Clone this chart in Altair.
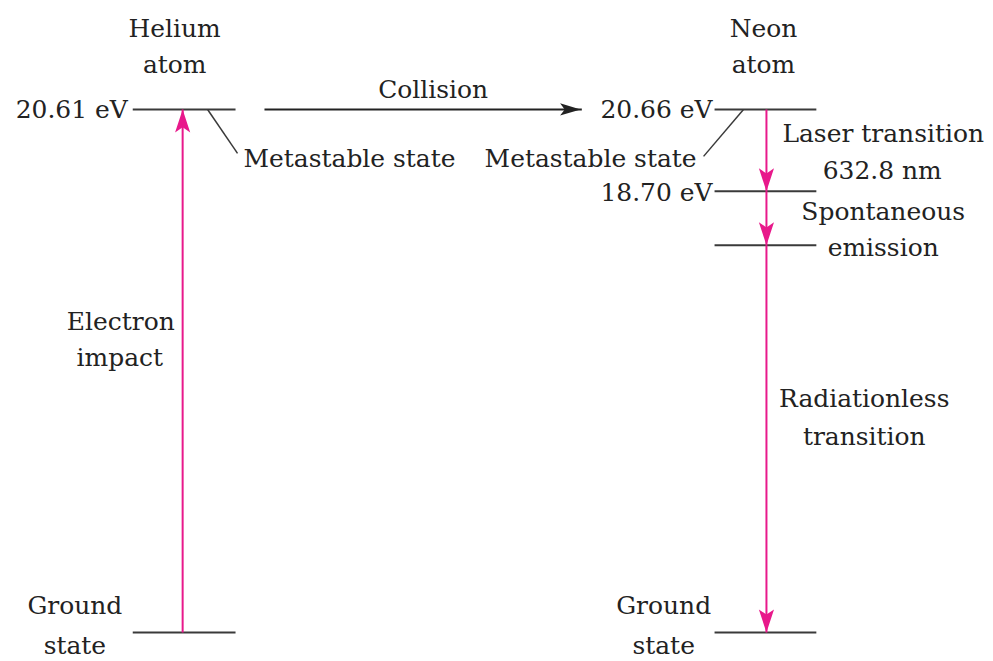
import altair as alt
import pandas as pd

# ---- energy-level diagram content (reference pixel frame) ----
# horizontal level lines: x start, x end, y
level_x1 = [133, 133, 716, 716, 716, 716]
level_x2 = [236, 236, 818, 818, 818, 818]
level_y = [109, 633, 109, 191, 245, 633]

# leader lines (metastable state pointers)
leader_x1 = [208, 745]
leader_y1 = [109, 109]
leader_x2 = [238, 705]
leader_y2 = [153, 156]

# magenta transitions: x, from y, to y (tip)
trans_x = [183, 768, 768, 768]
trans_from = [633, 109, 191, 245]
trans_to = [109, 191, 245, 633]

# collision arrow
coll_x1, coll_x2, coll_y = 265, 583, 109

# text labels: text, x, baseline y, alignment
labels = ["Helium", "atom", "Neon", "atom",
          "20.61 eV", "20.66 eV", "18.70 eV",
          "Collision", "Metastable state", "Metastable state",
          "Laser transition", "632.8 nm", "Spontaneous", "emission",
          "Electron", "impact", "Radiationless", "transition",
          "Ground", "state", "Ground", "state"]
label_x = [175, 175, 765, 765,
           128, 714, 714,
           434, 244, 698,
           885, 884, 885, 885,
           121, 120, 866, 866,
           75, 75, 665, 665]
label_y = [36, 72, 36, 72,
           118, 118, 201,
           98, 167, 167,
           142, 179, 220, 256,
           330, 366, 407, 445,
           615, 655, 615, 655]
label_align = ["center", "center", "center", "center",
               "right", "right", "right",
               "center", "left", "right",
               "center", "center", "center", "center",
               "center", "center", "center", "center",
               "center", "center", "center", "center"]

LINE = "#3a3a3a"
MAG = "#E8198B"
TXT = "#222222"
FONT = "DejaVu Serif"
FS = 25
HEAD = 23  # arrowhead length in px

xs = alt.Scale(domain=[8, 985], nice=False, zero=False)
ys = alt.Scale(domain=[8, 653], nice=False, zero=False, reverse=True)
X = lambda f: alt.X(f, type="quantitative", scale=xs, axis=None)
Y = lambda f: alt.Y(f, type="quantitative", scale=ys, axis=None)

levels = pd.DataFrame({"x": level_x1, "x2": level_x2, "y": level_y})
leaders = pd.DataFrame({"x": leader_x1, "y": leader_y1, "x2": leader_x2, "y2": leader_y2})
trans = pd.DataFrame({"x": trans_x, "y": trans_from, "y2": trans_to})
trans["dir"] = ["up" if t < f else "down" for f, t in zip(trans_from, trans_to)]
trans["hy"] = [t + HEAD / 2 if d == "up" else t - HEAD / 2 for t, d in zip(trans_to, trans["dir"])]
coll = pd.DataFrame({"x": [coll_x1], "x2": [coll_x2], "y": [coll_y], "hx": [coll_x2 - HEAD / 2]})
txt = pd.DataFrame({"t": labels, "x": label_x, "y": label_y, "a": label_align})

level_layer = alt.Chart(levels).mark_rule(color=LINE, strokeWidth=2).encode(
    x=X("x"), x2="x2", y=Y("y"))
leader_layer = alt.Chart(leaders).mark_rule(color=LINE, strokeWidth=1.5).encode(
    x=X("x"), y=Y("y"), x2="x2", y2="y2")
trans_layer = alt.Chart(trans).mark_rule(color=MAG, strokeWidth=2).encode(
    x=X("x"), y=Y("y"), y2="y2")
UP = "M0,-1 L0.66,1 L0,0.55 L-0.66,1 Z"
DOWN = "M0,1 L0.66,-1 L0,-0.55 L-0.66,-1 Z"
RIGHT = "M1,0 L-1,-0.6 L-0.55,0 L-1,0.6 Z"
head_up = alt.Chart(trans[trans["dir"] == "up"]).mark_point(
    shape=UP, filled=True, color=MAG, size=HEAD * HEAD, opacity=1, strokeWidth=0).encode(
    x=X("x"), y=Y("hy"))
head_down = alt.Chart(trans[trans["dir"] == "down"]).mark_point(
    shape=DOWN, filled=True, color=MAG, size=HEAD * HEAD, opacity=1, strokeWidth=0).encode(
    x=X("x"), y=Y("hy"))
coll_line = alt.Chart(coll).mark_rule(color="#222222", strokeWidth=2).encode(
    x=X("x"), x2="x2", y=Y("y"))
coll_head = alt.Chart(coll).mark_point(
    shape=RIGHT, filled=True, color="#222222", size=HEAD * HEAD * 0.8, opacity=1, strokeWidth=0).encode(
    x=X("hx"), y=Y("y"))

text_layers = []
for a in ["left", "center", "right"]:
    text_layers.append(
        alt.Chart(txt[txt["a"] == a]).mark_text(
            align=a, baseline="alphabetic", font=FONT, fontSize=FS, color=TXT).encode(
            x=X("x"), y=Y("y"), text="t:N"))

chart = alt.layer(level_layer, leader_layer, trans_layer, head_up, head_down,
                  coll_line, coll_head, *text_layers).properties(
    width=977, height=645, padding=0
).configure_view(stroke=None)

chart.save("out.html", embed_options={"renderer": "svg", "actions": False})
